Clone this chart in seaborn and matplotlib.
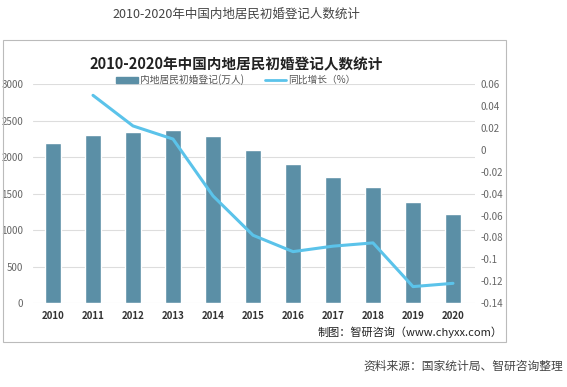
import numpy as np
import pandas as pd
import matplotlib
matplotlib.use('Agg')
import matplotlib.pyplot as plt
import seaborn as sns
from matplotlib.patches import Rectangle
from matplotlib.lines import Line2D
from matplotlib.ticker import FuncFormatter

# data
years = ['2010', '2011', '2012', '2013', '2014', '2015', '2016', '2017', '2018', '2019', '2020']
registrations = [2190, 2306, 2351, 2374, 2286, 2100, 1902, 1733, 1596, 1390, 1216]
growth_years = ['2011', '2012', '2013', '2014', '2015', '2016', '2017', '2018', '2019', '2020']
growth = [0.050, 0.022, 0.010, -0.042, -0.078, -0.093, -0.088, -0.085, -0.125, -0.122]

bar_label = '内地居民初婚登记(万人)'
line_label = '同比增长（%）'

sns.set_theme(style='white')
plt.rcParams['font.family'] = ['Noto Sans CJK SC', 'DejaVu Sans']

bar_color = '#5B8FA6'
line_color = '#5BC3EA'

fig = plt.figure(figsize=(5.67, 3.87), dpi=100)
W, H = 567, 387
ax = fig.add_axes([33 / W, 1 - 303 / H, 442 / W, 218.6 / H])

df = pd.DataFrame({'year': years, 'value': registrations})
sns.barplot(data=df, x='year', y='value', color=bar_color, width=0.42,
            saturation=1, ax=ax)
ax.set_xlim(-0.5, 10.55)
ax.set_ylim(0, 3000)
ax.set_yticks(range(0, 3001, 500))
ax.yaxis.grid(True, color='#DDDDDD', linewidth=0.8)
ax.set_axisbelow(True)
ax.set_xlabel('')
ax.set_ylabel('')
for s in ax.spines.values():
    s.set_visible(False)
ax.tick_params(axis='y', length=0, labelsize=7, labelcolor='#666666', pad=7)
ax.tick_params(axis='x', length=0, labelsize=7, labelcolor='#333333', pad=6)
for t in ax.get_xticklabels():
    t.set_fontweight('bold')

ax2 = ax.twinx()
gdf = pd.DataFrame({'pos': [years.index(y) for y in growth_years], 'growth': growth})
sns.lineplot(data=gdf, x='pos', y='growth', color=line_color, linewidth=2.2, ax=ax2)
ax2.set_ylim(-0.14, 0.06)
ax2.set_yticks(np.round(np.arange(-0.14, 0.061, 0.02), 2))
ax2.yaxis.set_major_formatter(FuncFormatter(lambda v, p: '%g' % round(v, 2)))
ax2.set_xlim(-0.5, 10.55)
ax2.set_ylabel('')
for s in ax2.spines.values():
    s.set_visible(False)
ax2.tick_params(axis='y', length=0, labelsize=7, labelcolor='#666666', pad=4)

# outer box
fig.patches.append(Rectangle((3 / W, 1 - 342 / H), 503 / W, 302 / H, transform=fig.transFigure,
                             fill=False, edgecolor='#BBBBBB', linewidth=0.8))

fig.text(236 / W, 1 - 14 / H, '2010-2020年中国内地居民初婚登记人数统计',
         ha='center', va='center', fontsize=9, color='#444444')
fig.text(236 / W, 1 - 64 / H, '2010-2020年中国内地居民初婚登记人数统计',
         ha='center', va='center', fontsize=10.5, fontweight='bold', color='#222222')

handles = [Rectangle((0, 0), 1, 1, color=bar_color),
           Line2D([0], [0], color=line_color, linewidth=2)]
fig.legend(handles, [bar_label, line_label], loc='center', bbox_to_anchor=(236 / W, 1 - 80 / H),
           ncol=2, frameon=False, fontsize=7, labelcolor='#555555', handlelength=2.2,
           handleheight=0.6, handletextpad=0.2, columnspacing=2.2)

fig.text(503 / W, 1 - 332 / H, '制图：智研咨询（www.chyxx.com）',
         ha='right', va='center', fontsize=8, color='#222222')
fig.text(563 / W, 1 - 366 / H, '资料来源：国家统计局、智研咨询整理',
         ha='right', va='center', fontsize=8.5, color='#444444')

fig.savefig('out.png', dpi=100)
